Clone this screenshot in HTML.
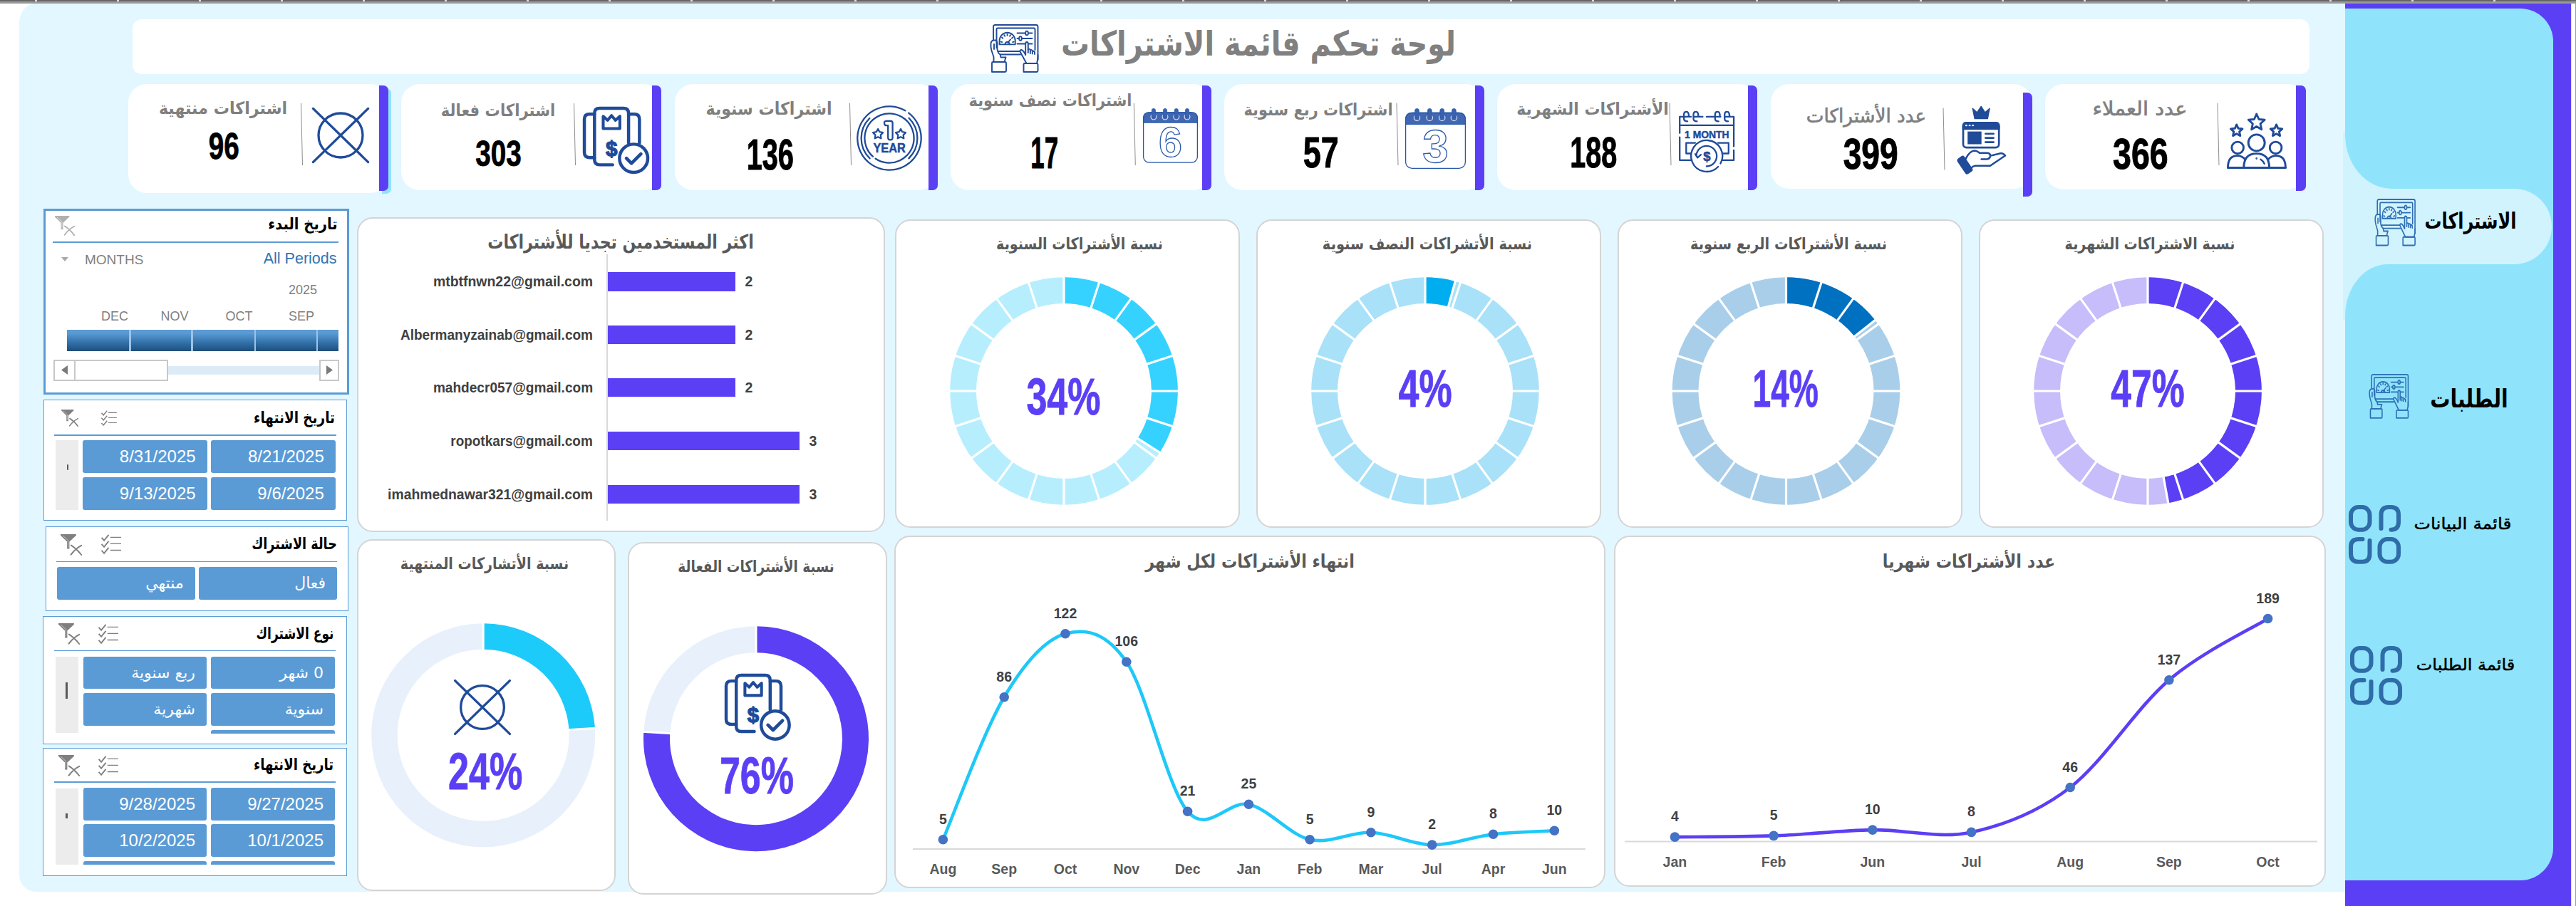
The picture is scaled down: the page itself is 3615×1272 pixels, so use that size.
<!DOCTYPE html><html lang="ar"><head><meta charset="utf-8"><title>لوحة تحكم قائمة الاشتراكات</title><style>
*{box-sizing:border-box;margin:0;padding:0}
html,body{width:3615px;height:1272px;overflow:hidden;background:#fff}
body{position:relative;font-family:"Liberation Sans","DejaVu Sans",sans-serif;}
.abs{position:absolute}
.t{position:absolute;white-space:nowrap;line-height:1;}
.ar{direction:rtl;font-family:"DejaVu Sans",sans-serif;font-weight:bold}
.num{position:absolute;white-space:nowrap;line-height:1;font-family:"Liberation Sans",sans-serif;font-weight:bold;transform-origin:50% 50%;text-align:center}
.card{position:absolute;background:#fff;border:2px solid #D5D4D4;border-radius:22px}
.kpi{position:absolute;background:#fff;border-radius:26px}
.bar{position:absolute;background:#5B3FF5;border-radius:0 7px 7px 0}
.slc{position:absolute;background:#fff;border:1px solid #5B9BD5}
.btn{position:absolute;background:#5B9BD5;border-radius:3px;color:#fff;font-size:24px;line-height:1;white-space:nowrap}
.btn span{position:absolute;right:16px;top:50%;transform:translateY(-50%)}
.sh{position:absolute;direction:rtl;font-family:"DejaVu Sans",sans-serif;font-weight:bold;font-size:20px;color:#000;white-space:nowrap;line-height:1}
svg{position:absolute;overflow:visible}
</style></head><body>
<div class="abs" style="left:0;top:0;width:3615px;height:5px;background:#9a9a9a"></div>
<div class="abs" style="left:0;top:0;width:3615px;height:2px;background:#666"></div>
<div class="abs" style="left:49.0px;top:0;width:3px;height:2px;background:#ddd"></div>
<div class="abs" style="left:164.0px;top:0;width:3px;height:2px;background:#ddd"></div>
<div class="abs" style="left:279.0px;top:0;width:3px;height:2px;background:#ddd"></div>
<div class="abs" style="left:394.0px;top:0;width:3px;height:2px;background:#ddd"></div>
<div class="abs" style="left:509.0px;top:0;width:3px;height:2px;background:#ddd"></div>
<div class="abs" style="left:624.0px;top:0;width:3px;height:2px;background:#ddd"></div>
<div class="abs" style="left:739.0px;top:0;width:3px;height:2px;background:#ddd"></div>
<div class="abs" style="left:854.0px;top:0;width:3px;height:2px;background:#ddd"></div>
<div class="abs" style="left:969.0px;top:0;width:3px;height:2px;background:#ddd"></div>
<div class="abs" style="left:1084.0px;top:0;width:3px;height:2px;background:#ddd"></div>
<div class="abs" style="left:1199.0px;top:0;width:3px;height:2px;background:#ddd"></div>
<div class="abs" style="left:1314.0px;top:0;width:3px;height:2px;background:#ddd"></div>
<div class="abs" style="left:1429.0px;top:0;width:3px;height:2px;background:#ddd"></div>
<div class="abs" style="left:1544.0px;top:0;width:3px;height:2px;background:#ddd"></div>
<div class="abs" style="left:1659.0px;top:0;width:3px;height:2px;background:#ddd"></div>
<div class="abs" style="left:1774.0px;top:0;width:3px;height:2px;background:#ddd"></div>
<div class="abs" style="left:1889.0px;top:0;width:3px;height:2px;background:#ddd"></div>
<div class="abs" style="left:2004.0px;top:0;width:3px;height:2px;background:#ddd"></div>
<div class="abs" style="left:2119.0px;top:0;width:3px;height:2px;background:#ddd"></div>
<div class="abs" style="left:2234.0px;top:0;width:3px;height:2px;background:#ddd"></div>
<div class="abs" style="left:2349.0px;top:0;width:3px;height:2px;background:#ddd"></div>
<div class="abs" style="left:2464.0px;top:0;width:3px;height:2px;background:#ddd"></div>
<div class="abs" style="left:2579.0px;top:0;width:3px;height:2px;background:#ddd"></div>
<div class="abs" style="left:2694.0px;top:0;width:3px;height:2px;background:#ddd"></div>
<div class="abs" style="left:2809.0px;top:0;width:3px;height:2px;background:#ddd"></div>
<div class="abs" style="left:2924.0px;top:0;width:3px;height:2px;background:#ddd"></div>
<div class="abs" style="left:3039.0px;top:0;width:3px;height:2px;background:#ddd"></div>
<div class="abs" style="left:3154.0px;top:0;width:3px;height:2px;background:#ddd"></div>
<div class="abs" style="left:3269.0px;top:0;width:3px;height:2px;background:#ddd"></div>
<div class="abs" style="left:3384.0px;top:0;width:3px;height:2px;background:#ddd"></div>
<div class="abs" style="left:3499.0px;top:0;width:3px;height:2px;background:#ddd"></div>
<div class="abs" style="left:27px;top:5px;width:3265px;height:1247px;background:#E2F7FF;border-radius:22px 0 0 24px / 28px 0 0 24px"></div>
<div class="abs" style="left:3291px;top:5px;width:317px;height:1267px;background:#5B3FF5"></div>
<div class="abs" style="left:3608px;top:5px;width:1px;height:1267px;background:#e4e4e4"></div>
<div class="abs" style="left:3613.5px;top:5px;width:1.5px;height:1267px;background:#9a9a9a"></div>
<div class="abs" style="left:3291px;top:12px;width:292px;height:1224px;background:#8FE4FB;border-radius:0 46px 46px 0"></div>
<div class="abs" style="left:3288px;top:186px;width:75px;height:80px;background:#D0F3FE"></div>
<div class="abs" style="left:3291px;top:100px;width:150px;height:165px;background:#8FE4FB;border-radius:0 0 0 66px / 0 0 0 76px"></div>
<div class="abs" style="left:3288px;top:370px;width:75px;height:79px;background:#D0F3FE"></div>
<div class="abs" style="left:3291px;top:371px;width:150px;height:165px;background:#8FE4FB;border-radius:60px 0 0 0 / 73px 0 0 0"></div>
<div class="abs" style="left:3288px;top:265px;width:293px;height:106px;background:#D0F3FE;border-radius:0 53px 53px 0"></div>
<svg style="left:3331.5px;top:279px" width="57.5" height="66.5" viewBox="0 0 68 68" preserveAspectRatio="none"><g fill="none" stroke="#2F6EB5" stroke-width="1.9" stroke-linecap="round" stroke-linejoin="round">
<path d="M5 22 V3.5 Q5 1 7.5 1 H65 Q67.5 1 67.5 3.5 V50"/>
<path d="M9.5 33 V7 Q9.5 5.5 11 5.5 H62 Q63.5 5.5 63.5 7 V36"/>
<path d="M12 38 H42"/><path d="M15 42.5 H43"/>
<path d="M13.6 28.4 V23 A11 11.2 0 0 1 35.7 23 V28.4 Z"/>
<path d="M21.3 28.4 A3.4 4.6 0 0 1 27.9 28.4"/><path d="M25.4 26 L29 21.4"/>
<path d="M15.6 24.6 l1.7 .5 M17 18.6 l1.4 1.1 M24.6 13.9 v1.9 M32.3 18.6 l-1.4 1.1 M33.7 24.6 l-1.7 .5 M20.3 15.3 l.9 1.5 M29 15.3 l-.9 1.5"/>
<path d="M38.5 12.5 H50 M54 12.5 H59.5 M38.5 20 H41 M45 20 H59.5 M38.5 27.5 H50 M54.5 27.5 H59.5"/>
<ellipse cx="52" cy="12.5" rx="1.9" ry="2.9"/><ellipse cx="43" cy="20" rx="1.9" ry="2.9"/>
<path d="M50.2 43 V27.5 Q50.2 25 52 25 Q53.8 25 53.8 27.5 V40"/>
<path d="M53.8 35.5 Q55.8 34 56.8 36 V41 M56.8 36.5 Q58.8 35.3 59.8 37.2 V41.5 M59.8 38 Q62 37 63 39 V42"/>
<path d="M50.2 43 Q47.5 37 44.5 36 Q42 36 42.5 38.5 L51.5 55 H66 Q68 48 67.5 43"/>
<path d="M47.5 67 H66 Q67.5 67 67.5 65.5 V56.5 Q67.5 55 66 55 H49 Q47.5 55 47.5 56.5 Z"/>
<path d="M5.5 22.5 Q2 23 1.5 27 Q1 32 2.5 37 L5.5 46 V53 H20.5 L22.5 46.5 H15.5 L14.5 42.5 Q11 40 10.5 35 V26 Q9.5 22 7.5 22.5 Z"/>
<path d="M6 28 V35"/>
<path d="M3 67 H21.5 Q23 67 23 65.5 V54.5 Q23 53 21.5 53 H4.5 Q3 53 3 54.5 Z"/>
</g></svg>
<div class="t" style="left:3466.5px;top:310.3px;font-family:'DejaVu Sans',sans-serif;font-weight:bold;font-size:31px;color:#000;direction:rtl;transform:translate(-50%,-50%) scaleX(0.770);">الاشتراكات</div>
<svg style="left:3324.2px;top:524.9px" width="55.9" height="62.8" viewBox="0 0 68 68" preserveAspectRatio="none"><g fill="none" stroke="#2F6EB5" stroke-width="1.9" stroke-linecap="round" stroke-linejoin="round">
<path d="M5 22 V3.5 Q5 1 7.5 1 H65 Q67.5 1 67.5 3.5 V50"/>
<path d="M9.5 33 V7 Q9.5 5.5 11 5.5 H62 Q63.5 5.5 63.5 7 V36"/>
<path d="M12 38 H42"/><path d="M15 42.5 H43"/>
<path d="M13.6 28.4 V23 A11 11.2 0 0 1 35.7 23 V28.4 Z"/>
<path d="M21.3 28.4 A3.4 4.6 0 0 1 27.9 28.4"/><path d="M25.4 26 L29 21.4"/>
<path d="M15.6 24.6 l1.7 .5 M17 18.6 l1.4 1.1 M24.6 13.9 v1.9 M32.3 18.6 l-1.4 1.1 M33.7 24.6 l-1.7 .5 M20.3 15.3 l.9 1.5 M29 15.3 l-.9 1.5"/>
<path d="M38.5 12.5 H50 M54 12.5 H59.5 M38.5 20 H41 M45 20 H59.5 M38.5 27.5 H50 M54.5 27.5 H59.5"/>
<ellipse cx="52" cy="12.5" rx="1.9" ry="2.9"/><ellipse cx="43" cy="20" rx="1.9" ry="2.9"/>
<path d="M50.2 43 V27.5 Q50.2 25 52 25 Q53.8 25 53.8 27.5 V40"/>
<path d="M53.8 35.5 Q55.8 34 56.8 36 V41 M56.8 36.5 Q58.8 35.3 59.8 37.2 V41.5 M59.8 38 Q62 37 63 39 V42"/>
<path d="M50.2 43 Q47.5 37 44.5 36 Q42 36 42.5 38.5 L51.5 55 H66 Q68 48 67.5 43"/>
<path d="M47.5 67 H66 Q67.5 67 67.5 65.5 V56.5 Q67.5 55 66 55 H49 Q47.5 55 47.5 56.5 Z"/>
<path d="M5.5 22.5 Q2 23 1.5 27 Q1 32 2.5 37 L5.5 46 V53 H20.5 L22.5 46.5 H15.5 L14.5 42.5 Q11 40 10.5 35 V26 Q9.5 22 7.5 22.5 Z"/>
<path d="M6 28 V35"/>
<path d="M3 67 H21.5 Q23 67 23 65.5 V54.5 Q23 53 21.5 53 H4.5 Q3 53 3 54.5 Z"/>
</g></svg>
<div class="t" style="left:3465.2px;top:560.1px;font-family:'DejaVu Sans',sans-serif;font-weight:bold;font-size:35px;color:#000;direction:rtl;transform:translate(-50%,-50%) scaleX(0.804);">الطلبات</div>
<svg style="left:3295.7px;top:709.2px" width="74" height="84" viewBox="0 0 74 84" ><g fill="none" stroke="#2F6CA8" stroke-width="6" stroke-linecap="round" stroke-linejoin="round">
<rect x="3" y="3" width="26.5" height="31.7" rx="10.5" ry="11"/>
<path d="M45.5 33 V14 Q45.5 3 56 3 H59.5 Q70 3 70 14 V24 Q70 34.7 59.5 34.7"/>
<path d="M19.5 48 H14 Q3 48 3 59 V68.7 Q3 79.7 13.5 79.7 H19 Q29.5 79.7 29.5 68.7 V50"/>
<rect x="43.5" y="48" width="26.5" height="31.7" rx="10.5" ry="11"/>
</g></svg>
<div class="t" style="left:3456.0px;top:735.2px;font-family:'DejaVu Sans',sans-serif;font-weight:normal;font-size:22.6px;color:#000;direction:rtl;transform:translate(-50%,-50%) scaleX(1.100);-webkit-text-stroke:0.5px #000;">قائمة البيانات</div>
<svg style="left:3297.7px;top:907.2px" width="74" height="84" viewBox="0 0 74 84" ><g fill="none" stroke="#2F6CA8" stroke-width="6" stroke-linecap="round" stroke-linejoin="round">
<rect x="3" y="3" width="26.5" height="31.7" rx="10.5" ry="11"/>
<path d="M45.5 33 V14 Q45.5 3 56 3 H59.5 Q70 3 70 14 V24 Q70 34.7 59.5 34.7"/>
<path d="M19.5 48 H14 Q3 48 3 59 V68.7 Q3 79.7 13.5 79.7 H19 Q29.5 79.7 29.5 68.7 V50"/>
<rect x="43.5" y="48" width="26.5" height="31.7" rx="10.5" ry="11"/>
</g></svg>
<div class="t" style="left:3459.8px;top:933.2px;font-family:'DejaVu Sans',sans-serif;font-weight:normal;font-size:22.6px;color:#000;direction:rtl;transform:translate(-50%,-50%) scaleX(1.061);-webkit-text-stroke:0.5px #000;">قائمة الطلبات</div>
<div class="abs" style="left:186px;top:27px;width:3055px;height:77px;background:#fff;border-radius:13px"></div>
<div class="t" style="left:1766.0px;top:61.2px;font-family:'DejaVu Sans',sans-serif;font-weight:bold;font-size:48px;color:#808080;direction:rtl;transform:translate(-50%,-50%) scaleX(0.829);">لوحة تحكم قائمة الاشتراكات</div>
<svg style="left:1389px;top:34px" width="68" height="68" viewBox="0 0 68 68" preserveAspectRatio="none"><g fill="none" stroke="#1F4B99" stroke-width="1.9" stroke-linecap="round" stroke-linejoin="round">
<path d="M5 22 V3.5 Q5 1 7.5 1 H65 Q67.5 1 67.5 3.5 V50"/>
<path d="M9.5 33 V7 Q9.5 5.5 11 5.5 H62 Q63.5 5.5 63.5 7 V36"/>
<path d="M12 38 H42"/><path d="M15 42.5 H43"/>
<path d="M13.6 28.4 V23 A11 11.2 0 0 1 35.7 23 V28.4 Z"/>
<path d="M21.3 28.4 A3.4 4.6 0 0 1 27.9 28.4"/><path d="M25.4 26 L29 21.4"/>
<path d="M15.6 24.6 l1.7 .5 M17 18.6 l1.4 1.1 M24.6 13.9 v1.9 M32.3 18.6 l-1.4 1.1 M33.7 24.6 l-1.7 .5 M20.3 15.3 l.9 1.5 M29 15.3 l-.9 1.5"/>
<path d="M38.5 12.5 H50 M54 12.5 H59.5 M38.5 20 H41 M45 20 H59.5 M38.5 27.5 H50 M54.5 27.5 H59.5"/>
<ellipse cx="52" cy="12.5" rx="1.9" ry="2.9"/><ellipse cx="43" cy="20" rx="1.9" ry="2.9"/>
<path d="M50.2 43 V27.5 Q50.2 25 52 25 Q53.8 25 53.8 27.5 V40"/>
<path d="M53.8 35.5 Q55.8 34 56.8 36 V41 M56.8 36.5 Q58.8 35.3 59.8 37.2 V41.5 M59.8 38 Q62 37 63 39 V42"/>
<path d="M50.2 43 Q47.5 37 44.5 36 Q42 36 42.5 38.5 L51.5 55 H66 Q68 48 67.5 43"/>
<path d="M47.5 67 H66 Q67.5 67 67.5 65.5 V56.5 Q67.5 55 66 55 H49 Q47.5 55 47.5 56.5 Z"/>
<path d="M5.5 22.5 Q2 23 1.5 27 Q1 32 2.5 37 L5.5 46 V53 H20.5 L22.5 46.5 H15.5 L14.5 42.5 Q11 40 10.5 35 V26 Q9.5 22 7.5 22.5 Z"/>
<path d="M6 28 V35"/>
<path d="M3 67 H21.5 Q23 67 23 65.5 V54.5 Q23 53 21.5 53 H4.5 Q3 53 3 54.5 Z"/>
</g></svg>
<div class="kpi" style="left:180px;top:118px;width:365px;height:153px"></div>
<div class="bar" style="left:536px;top:124px;width:13px;height:148px;background:#8FE4FB"></div>
<div class="bar" style="left:532px;top:120px;width:13px;height:148px"></div>
<svg style="left:0;top:0" width="1" height="1"><path d="M422.5 145 L424.5 232" stroke="#808080" stroke-width="0.9" fill="none"/></svg>
<div class="t" style="left:312.9px;top:152.8px;font-family:'DejaVu Sans',sans-serif;font-weight:bold;font-size:23.7px;color:#7F7F7F;direction:rtl;transform:translate(-50%,-50%) scaleX(0.937);">اشتراكات منتهية</div>
<svg style="left:0;top:0" width="1" height="1"><text transform="translate(292.86 223.17) scale(0.3863 0.5098)" font-family="Liberation Sans,sans-serif" font-weight="bold" font-size="100" fill="#000" stroke="#000" stroke-width="1.6" stroke-linejoin="round">96</text></svg>
<div class="kpi" style="left:563px;top:118px;width:365px;height:149px"></div>
<div class="bar" style="left:915px;top:120px;width:13px;height:147px"></div>
<svg style="left:0;top:0" width="1" height="1"><path d="M805.5 145 L807.5 232" stroke="#808080" stroke-width="0.9" fill="none"/></svg>
<div class="t" style="left:698.9px;top:156.3px;font-family:'DejaVu Sans',sans-serif;font-weight:bold;font-size:23.7px;color:#7F7F7F;direction:rtl;transform:translate(-50%,-50%) scaleX(0.894);">اشتراكات فعالة</div>
<svg style="left:0;top:0" width="1" height="1"><text transform="translate(667.14 233.15) scale(0.3874 0.5080)" font-family="Liberation Sans,sans-serif" font-weight="bold" font-size="100" fill="#000" stroke="#000" stroke-width="1.6" stroke-linejoin="round">303</text></svg>
<div class="kpi" style="left:947px;top:118px;width:369px;height:149px"></div>
<div class="bar" style="left:1303px;top:120px;width:13px;height:147px"></div>
<svg style="left:0;top:0" width="1" height="1"><path d="M1192.5 145 L1194.5 232" stroke="#808080" stroke-width="0.9" fill="none"/></svg>
<div class="t" style="left:1078.5px;top:152.5px;font-family:'DejaVu Sans',sans-serif;font-weight:bold;font-size:24.5px;color:#7F7F7F;direction:rtl;transform:translate(-50%,-50%) scaleX(0.902);">اشتراكات سنوية</div>
<svg style="left:0;top:0" width="1" height="1"><text transform="translate(1047.64 237.75) scale(0.3972 0.6030)" font-family="Liberation Sans,sans-serif" font-weight="bold" font-size="100" fill="#000" stroke="#000" stroke-width="1.6" stroke-linejoin="round">136</text></svg>
<div class="kpi" style="left:1334px;top:118px;width:366px;height:149px"></div>
<div class="bar" style="left:1687px;top:120px;width:13px;height:147px"></div>
<svg style="left:0;top:0" width="1" height="1"><path d="M1591.3 145 L1593.3 232" stroke="#808080" stroke-width="0.9" fill="none"/></svg>
<div class="t" style="left:1473.8px;top:142.2px;font-family:'DejaVu Sans',sans-serif;font-weight:bold;font-size:23.7px;color:#7F7F7F;direction:rtl;transform:translate(-50%,-50%) scaleX(0.886);">اشتراكات نصف سنوية</div>
<svg style="left:0;top:0" width="1" height="1"><text transform="translate(1446.30 236.49) scale(0.3486 0.6223)" font-family="Liberation Sans,sans-serif" font-weight="bold" font-size="100" fill="#000" stroke="#000" stroke-width="1.6" stroke-linejoin="round">17</text></svg>
<div class="kpi" style="left:1718px;top:118px;width:365px;height:149px"></div>
<div class="bar" style="left:2070px;top:120px;width:13px;height:147px"></div>
<svg style="left:0;top:0" width="1" height="1"><path d="M1960 145 L1962 232" stroke="#808080" stroke-width="0.9" fill="none"/></svg>
<div class="t" style="left:1849.6px;top:154.7px;font-family:'DejaVu Sans',sans-serif;font-weight:bold;font-size:23.7px;color:#7F7F7F;direction:rtl;transform:translate(-50%,-50%) scaleX(0.884);">اشتراكات ربع سنوية</div>
<svg style="left:0;top:0" width="1" height="1"><text transform="translate(1828.81 235.08) scale(0.4490 0.6164)" font-family="Liberation Sans,sans-serif" font-weight="bold" font-size="100" fill="#000" stroke="#000" stroke-width="1.6" stroke-linejoin="round">57</text></svg>
<div class="kpi" style="left:2101px;top:118px;width:365px;height:149px"></div>
<div class="bar" style="left:2453px;top:120px;width:13px;height:147px"></div>
<svg style="left:0;top:0" width="1" height="1"><path d="M2343 145 L2345 232" stroke="#808080" stroke-width="0.9" fill="none"/></svg>
<div class="t" style="left:2235.4px;top:153.8px;font-family:'DejaVu Sans',sans-serif;font-weight:bold;font-size:23.7px;color:#7F7F7F;direction:rtl;transform:translate(-50%,-50%) scaleX(0.924);">الأشتراكات الشهرية</div>
<svg style="left:0;top:0" width="1" height="1"><text transform="translate(2203.15 235.09) scale(0.3959 0.6078)" font-family="Liberation Sans,sans-serif" font-weight="bold" font-size="100" fill="#000" stroke="#000" stroke-width="1.6" stroke-linejoin="round">188</text></svg>
<div class="kpi" style="left:2485px;top:118px;width:367px;height:147px"></div>
<div class="bar" style="left:2839px;top:130px;width:13px;height:146px"></div>
<svg style="left:0;top:0" width="1" height="1"><path d="M2727 151.5 L2729 238.5" stroke="#808080" stroke-width="0.9" fill="none"/></svg>
<div class="t" style="left:2618.9px;top:162.3px;font-family:'DejaVu Sans',sans-serif;font-weight:normal;font-size:27px;color:#7F7F7F;direction:rtl;transform:translate(-50%,-50%) scaleX(0.970);-webkit-text-stroke:0.7px #7F7F7F;">عدد الأشتراكات</div>
<svg style="left:0;top:0" width="1" height="1"><text transform="translate(2586.63 236.95) scale(0.4624 0.6058)" font-family="Liberation Sans,sans-serif" font-weight="bold" font-size="100" fill="#000" stroke="#000" stroke-width="1.6" stroke-linejoin="round">399</text></svg>
<div class="kpi" style="left:2870px;top:118px;width:366px;height:148px"></div>
<div class="bar" style="left:3222px;top:120px;width:14px;height:148px"></div>
<svg style="left:0;top:0" width="1" height="1"><path d="M3112 145 L3114 232" stroke="#808080" stroke-width="0.9" fill="none"/></svg>
<div class="t" style="left:3002.5px;top:151.7px;font-family:'DejaVu Sans',sans-serif;font-weight:normal;font-size:27px;color:#7F7F7F;direction:rtl;transform:translate(-50%,-50%) scaleX(1.072);-webkit-text-stroke:0.7px #7F7F7F;">عدد العملاء</div>
<svg style="left:0;top:0" width="1" height="1"><text transform="translate(2965.03 236.95) scale(0.4655 0.6058)" font-family="Liberation Sans,sans-serif" font-weight="bold" font-size="100" fill="#000" stroke="#000" stroke-width="1.6" stroke-linejoin="round">366</text></svg>
<svg style="left:477.6px;top:190px" width="1" height="1" viewBox="0 0 1 1" ><g fill="none" stroke="#1F4B99" stroke-width="3.3" stroke-linecap="round">
<circle cx="0" cy="0" r="31"/><path d="M-38.6 -37.6 L38.6 37.6 M38.6 -37.6 L-38.6 37.6"/></g></svg>
<svg style="left:817px;top:149.8px" width="94.6" height="94.6" viewBox="0 0 93 93" ><g fill="none" stroke="#1F4B99" stroke-width="4.4" stroke-linecap="round" stroke-linejoin="round">
<path d="M17 10 H10 Q3 10 3 17 V63 Q3 70 10 70 H17"/>
<path d="M64 10 H72 Q79 10 79 17 V50"/>
<path d="M42 80 H24 Q17 80 17 73 V9 Q17 2 24 2 H57 Q64 2 64 9 V50"/>
<path d="M29 30 V13 L35 18.5 L40.5 12 L46 18.5 L52 13 V30 Z" stroke-width="4"/>
<circle cx="71" cy="71" r="19.5"/>
<path d="M61 71 L68 78 L81 65" stroke-width="4.6"/>
</g>
<text x="40.5" y="67.5" font-family="Liberation Sans,sans-serif" font-weight="bold" font-size="29" fill="#1F4B99" stroke="#1F4B99" stroke-width="1.3" text-anchor="middle">$</text></svg>
<svg style="left:1248px;top:194px" width="1" height="1" viewBox="0 0 1 1" ><g fill="none" stroke="#1F4B99" stroke-width="2.3" stroke-linecap="round" stroke-linejoin="round">
<path d="M27.21 -35.46 A44.7 44.7 0 1 1 22.35 -38.71"/>
<path d="M27.52 -28.20 A39.4 39.4 0 0 1 27.37 28.34"/><path d="M-27.37 28.34 A39.4 39.4 0 0 1 -27.66 -28.05"/>
<path d="M-23.15 25.71 A34.6 34.6 0 1 1 -19.35 28.68"/>
<polygon points="-15.90,-12.90 -13.61,-8.76 -8.96,-7.86 -12.19,-4.39 -11.61,0.31 -15.90,-1.70 -20.19,0.31 -19.61,-4.39 -22.84,-7.86 -18.19,-8.76"/><polygon points="16.00,-12.90 18.29,-8.76 22.94,-7.86 19.71,-4.39 20.29,0.31 16.00,-1.70 11.71,0.31 12.29,-4.39 9.06,-7.86 13.71,-8.76"/>
<path d="M-6.8 -20 Q-8 -24.2 -4 -24.2 H2 Q4.6 -24.2 4.6 -21.5 V-0.8 Q4.6 2.3 1.4 2.3 Q-1.8 2.3 -1.8 -0.8 V-17.8 H-4 Q-6.4 -17.8 -6.8 -20 Z"/>
</g>
<text x="0.2" y="20" font-family="Liberation Sans,sans-serif" font-weight="bold" font-size="18.8" fill="#1F4B99" stroke="#1F4B99" stroke-width=".5" text-anchor="middle" textLength="45.5" lengthAdjust="spacingAndGlyphs">YEAR</text></svg>
<svg style="left:1604px;top:152px" width="77" height="76.7" viewBox="0 0 77 76.7" ><rect x="0.6" y="5.9" width="75.8" height="70.2" rx="8.1" fill="#fff" stroke="#2457A8" stroke-width="1.3"/>
<path d="M0.6 20.1 V14.0 Q0.6 5.9 8.7 5.9 H68.3 Q76.4 5.9 76.4 14.0 V20.1 Z" fill="#4267B2" stroke="#2457A8" stroke-width="1.3"/>
<circle cx="14.9" cy="12.1" r="3.9" fill="none" stroke="#fff" stroke-width="1.2" stroke-opacity=".8"/><rect x="12.3" y="0.4" width="5.2" height="12.3" rx="2.6" fill="#3A62B0" stroke="#2457A8" stroke-width=".7"/><circle cx="31.0" cy="12.1" r="3.9" fill="none" stroke="#fff" stroke-width="1.2" stroke-opacity=".8"/><rect x="28.4" y="0.4" width="5.2" height="12.3" rx="2.6" fill="#3A62B0" stroke="#2457A8" stroke-width=".7"/><circle cx="46.8" cy="12.1" r="3.9" fill="none" stroke="#fff" stroke-width="1.2" stroke-opacity=".8"/><rect x="44.2" y="0.4" width="5.2" height="12.3" rx="2.6" fill="#3A62B0" stroke="#2457A8" stroke-width=".7"/><circle cx="62.0" cy="12.1" r="3.9" fill="none" stroke="#fff" stroke-width="1.2" stroke-opacity=".8"/><rect x="59.4" y="0.4" width="5.2" height="12.3" rx="2.6" fill="#3A62B0" stroke="#2457A8" stroke-width=".7"/>
<text x="38.5" y="68.5" font-family="Liberation Sans,sans-serif" font-weight="bold" font-size="59.1" fill="#fff" stroke="#2C5BAD" stroke-width="1.3" text-anchor="middle">6</text></svg>
<svg style="left:1972px;top:152px" width="85" height="85" viewBox="0 0 85 85" ><rect x="0.6" y="6.5" width="83.8" height="77.9" rx="8.9" fill="#fff" stroke="#2457A8" stroke-width="1.3"/>
<path d="M0.6 22.3 V15.5 Q0.6 6.5 9.5 6.5 H75.5 Q84.4 6.5 84.4 15.5 V22.3 Z" fill="#4267B2" stroke="#2457A8" stroke-width="1.3"/>
<circle cx="16.5" cy="13.4" r="4.2" fill="none" stroke="#fff" stroke-width="1.2" stroke-opacity=".8"/><rect x="13.6" y="0.4" width="5.8" height="13.6" rx="2.9" fill="#3A62B0" stroke="#2457A8" stroke-width=".7"/><circle cx="34.3" cy="13.4" r="4.2" fill="none" stroke="#fff" stroke-width="1.2" stroke-opacity=".8"/><rect x="31.4" y="0.4" width="5.8" height="13.6" rx="2.9" fill="#3A62B0" stroke="#2457A8" stroke-width=".7"/><circle cx="51.7" cy="13.4" r="4.2" fill="none" stroke="#fff" stroke-width="1.2" stroke-opacity=".8"/><rect x="48.8" y="0.4" width="5.8" height="13.6" rx="2.9" fill="#3A62B0" stroke="#2457A8" stroke-width=".7"/><circle cx="68.4" cy="13.4" r="4.2" fill="none" stroke="#fff" stroke-width="1.2" stroke-opacity=".8"/><rect x="65.5" y="0.4" width="5.8" height="13.6" rx="2.9" fill="#3A62B0" stroke="#2457A8" stroke-width=".7"/>
<text x="42.5" y="75.9" font-family="Liberation Sans,sans-serif" font-weight="bold" font-size="65.5" fill="#fff" stroke="#2C5BAD" stroke-width="1.3" text-anchor="middle">3</text></svg>
<svg style="left:2355.8px;top:155.8px" width="78.3" height="85.6" viewBox="0 0 78.3 85.6" ><g fill="none" stroke="#1F4B99" stroke-width="2.3" stroke-linecap="round" stroke-linejoin="round">
<path d="M6.5 7.9 H1.2 V30.8 M1.2 36.6 V68.9 H17.5"/>
<path d="M71.5 7.9 H77.1 V49.6 M77.1 54.8 V68.9 H61.5"/>
<path d="M1.2 19.8 H77.1"/>
<path d="M7.1 7.9 H17 M13.9 7.9 Q14.3 0.9 10.600000000000001 0.9 Q7.1000000000000005 0.9 7.1000000000000005 5 V10.5 Q7.1000000000000005 14.3 12.100000000000001 14.3"/><path d="M20.5 7.9 H33.4 M27.3 7.9 Q27.7 0.9 24.0 0.9 Q20.5 0.9 20.5 5 V10.5 Q20.5 14.3 25.5 14.3"/><path d="M38.9 7.9 H58.5 M57.6 7.9 Q58 0.9 54.3 0.9 Q50.8 0.9 50.8 5 V10.5 Q50.8 14.3 55.8 14.3"/><path d="M64.2 7.9 H71.5 M71.0 7.9 Q71.4 0.9 67.7 0.9 Q64.2 0.9 64.2 5 V10.5 Q64.2 14.3 69.2 14.3"/>
<path d="M23 44.6 H10.3 V59.5 H17 M55 44.6 H69.8 V59.5 H61"/>
<path d="M55.2 78 A22 22 0 1 1 58.4 73.6"/>
<path d="M24.6 62 A14.3 14.3 0 1 1 38.9 77.5"/>
<path d="M23 60.3 L26.2 65.3 L31 61.2"/>
</g>
<text x="39.3" y="38.3" font-family="Liberation Sans,sans-serif" font-weight="bold" font-size="13.9" fill="#1F4B99" stroke="#1F4B99" stroke-width=".5" text-anchor="middle" textLength="62.5" lengthAdjust="spacingAndGlyphs">1 MONTH</text>
<text x="39.4" y="70.2" font-family="Liberation Sans,sans-serif" font-weight="bold" font-size="18.5" fill="#1F4B99" stroke="#1F4B99" stroke-width=".6" text-anchor="middle">$</text></svg>
<svg style="left:2745.9px;top:149px" width="68.9" height="96.3" viewBox="0 0 68.9 96.3" ><path d="M22.3 3.2 L28.5 8.9 L34.2 0.4 L39.7 8.9 L46.1 3.2 L43.3 17.6 H25.2 Z" fill="#1F4B99" stroke="#1F4B99" stroke-width="1.4" stroke-linejoin="round"/>
<rect x="9" y="23.4" width="50.2" height="34.8" rx="4.6" fill="#fff" stroke="#1F4B99" stroke-width="2.7"/>
<path d="M9 32 V28 Q9 23.4 13.6 23.4 H54.6 Q59.2 23.4 59.2 28 V32 Z" fill="#1F4B99" stroke="#1F4B99" stroke-width="2.7" stroke-linejoin="round"/>
<ellipse cx="13.4" cy="27.2" rx="1.5" ry="1.1" fill="#fff"/><ellipse cx="18.1" cy="27.2" rx="1.5" ry="1.1" fill="#fff"/><ellipse cx="22.6" cy="27.2" rx="1.5" ry="1.1" fill="#fff"/>
<rect x="15.2" y="35.6" width="19.5" height="17.9" fill="#1F4B99"/>
<path d="M40.3 38.7 H51.7 M40.3 44.6 H51.7 M40.3 50.6 H51.7" stroke="#1F4B99" stroke-width="2.6" stroke-linecap="round"/>
<path d="M12.8 73.6 Q18 63 25 62.6 Q28.5 62.8 32 65.8 H43.5 Q47.6 66.6 47 70.6 Q46 74.2 42.5 74.4 H34.6 M47.3 69.6 L61.5 66.3 Q65.5 65.8 68 69.5 L47 83.7 H26 Q23 84 20.3 86.6" fill="none" stroke="#1F4B99" stroke-width="2.5" stroke-linecap="round" stroke-linejoin="round"/>
<path d="M2 74.2 L7.2 70.6 Q9 69.6 10.3 71.3 L21.6 88 Q22.6 89.8 21 91 L15.6 94.8 Q13.8 95.8 12.6 94.2 L1.3 77.4 Q0.3 75.5 2 74.2 Z" fill="#1F4B99" stroke="#1F4B99" stroke-width="1.2" stroke-linejoin="round"/></svg>
<svg style="left:3125.2px;top:157.9px" width="83.7" height="79.5" viewBox="0 0 83.7 79.5" ><g fill="none" stroke="#1F4B99" stroke-width="2.9" stroke-linecap="round" stroke-linejoin="round">
<polygon points="41.70,2.00 44.99,9.47 53.11,10.29 47.03,15.73 48.75,23.71 41.70,19.60 34.65,23.71 36.37,15.73 30.29,10.29 38.41,9.47"/><polygon points="13.70,16.90 16.11,22.28 21.97,22.91 17.60,26.87 18.81,32.64 13.70,29.70 8.59,32.64 9.80,26.87 5.43,22.91 11.29,22.28"/><polygon points="69.50,16.90 71.91,22.28 77.77,22.91 73.40,26.87 74.61,32.64 69.50,29.70 64.39,32.64 65.60,26.87 61.23,22.91 67.09,22.28"/>
<circle cx="41.7" cy="42.4" r="11.5"/><circle cx="15.2" cy="49.4" r="8.3"/><circle cx="68.6" cy="49.4" r="8.3"/>
<path d="M23.8 77.5 Q23.8 57.6 41.7 57.6 Q59.6 57.6 59.6 77.5"/>
<path d="M1.5 77.5 Q1.5 60.6 14.6 60.6 Q21.5 60.6 25.8 65.8"/>
<path d="M82.4 77.5 Q82.4 60.6 69.1 60.6 Q62.2 60.6 58 65.8"/>
<path d="M1.5 77.5 H82.4"/>
<path d="M47.4 65.8 Q51 68 52.7 71.9" stroke-width="2.4"/><circle cx="41.7" cy="64.5" r=".6" stroke-width="1.6"/>
</g></svg>
<div class="abs" style="left:61px;top:293px;width:429px;height:261px;background:#fff;border:3px solid #5B9BD5"></div>
<div class="t" style="left:424.7px;top:315.1px;font-family:'DejaVu Sans',sans-serif;font-weight:bold;font-size:22px;color:#000;direction:rtl;transform:translate(-50%,-50%) scaleX(0.888);">تاريخ البدء</div>
<svg style="left:77px;top:302.5px" width="28" height="28" viewBox="0 0 30 30" ><path d="M0 0 H21.8 V1.7 L12.4 10.5 V20.4 H9.1 V10.5 L0 1.7 Z" fill="#B0B0B0"/>
<path d="M3 1.9 L10.6 8.9 V18.6" stroke="#fff" stroke-opacity=".7" stroke-width=".8" fill="none"/>
<path d="M14.8 15.6 Q22 20 29.2 29 M29.2 15.8 Q21 20 14.6 28.6" stroke="#B0B0B0" stroke-width="2" fill="none" stroke-linecap="round"/></svg>
<div class="abs" style="left:74px;top:338.5px;width:401px;height:2.5px;background:#5B9BD5"></div>
<div class="t " style="left:472.5px;top:364px;font-size:21.5px;color:#2E75B6;transform:translate(-100%,-50%);">All Periods</div>
<div class="t " style="left:119px;top:364px;font-size:19px;color:#7F7F7F;transform:translate(0,-50%);">MONTHS</div>
<svg style="left:86px;top:361px" width="10" height="6"><path d="M0 0 H10 L5 6 Z" fill="#A8A8A8"/></svg>
<div class="t " style="left:425px;top:407px;font-size:18px;color:#7F7F7F;transform:translate(-50%,-50%);">2025</div>
<div class="t " style="left:161px;top:444px;font-size:18px;color:#7F7F7F;transform:translate(-50%,-50%);">DEC</div>
<div class="t " style="left:245px;top:444px;font-size:18px;color:#7F7F7F;transform:translate(-50%,-50%);">NOV</div>
<div class="t " style="left:335.5px;top:444px;font-size:18px;color:#7F7F7F;transform:translate(-50%,-50%);">OCT</div>
<div class="t " style="left:423px;top:444px;font-size:18px;color:#7F7F7F;transform:translate(-50%,-50%);">SEP</div>
<div class="abs" style="left:93.5px;top:462.7px;width:381px;height:30px;background:linear-gradient(#5B9BD5,#5B9BD5 15%,#2E6DA4 65%,#1F4E79)"></div>
<div class="abs" style="left:181px;top:462.7px;width:2.6px;height:30px;background:#9DC3E6"></div>
<div class="abs" style="left:268px;top:462.7px;width:2.6px;height:30px;background:#9DC3E6"></div>
<div class="abs" style="left:356.5px;top:462.7px;width:2.6px;height:30px;background:#9DC3E6"></div>
<div class="abs" style="left:443.8px;top:462.7px;width:2.6px;height:30px;background:#9DC3E6"></div>
<div class="abs" style="left:127px;top:513.5px;width:322px;height:12px;background:#DDEBF7"></div>
<div class="abs" style="left:75px;top:505px;width:31px;height:29.5px;background:#fff;border:2.5px solid #C8C8C8"></div>
<div class="abs" style="left:103.5px;top:505px;width:132.5px;height:29.5px;background:#fff;border:2.5px solid #C8C8C8"></div>
<div class="abs" style="left:448px;top:505px;width:28px;height:29.5px;background:#fff;border:2.5px solid #C8C8C8"></div>
<svg style="left:86px;top:513px" width="9" height="13"><path d="M9 0 V13 L0 6.5 Z" fill="#7a7a7a"/></svg>
<svg style="left:458px;top:513px" width="9" height="13"><path d="M0 0 V13 L9 6.5 Z" fill="#7a7a7a"/></svg>
<div class="slc" style="left:61px;top:561px;width:426px;height:170px"></div>
<div class="t" style="left:413.2px;top:585.5px;font-family:'DejaVu Sans',sans-serif;font-weight:bold;font-size:22.5px;color:#000;direction:rtl;transform:translate(-50%,-50%) scaleX(0.818);">تاريخ الانتهاء</div>
<div class="abs" style="left:76px;top:610.4px;width:396px;height:1.4px;background:#5B9BD5"></div>
<svg style="left:86px;top:574.8px" width="24" height="24" viewBox="0 0 30 30" ><path d="M0 0 H21.8 V1.7 L12.4 10.5 V20.4 H9.1 V10.5 L0 1.7 Z" fill="#7F7F7F"/>
<path d="M3 1.9 L10.6 8.9 V18.6" stroke="#fff" stroke-opacity=".7" stroke-width=".8" fill="none"/>
<path d="M14.8 15.6 Q22 20 29.2 29 M29.2 15.8 Q21 20 14.6 28.6" stroke="#7F7F7F" stroke-width="2" fill="none" stroke-linecap="round"/></svg>
<svg style="left:142.4px;top:575.6px" width="22" height="22" viewBox="0 0 28.4 28.4" ><g fill="none" stroke="#7F7F7F">
<path d="M0.6 4.9 L4.1 8.8 L10.6 0.8 M0.6 14 L4.1 17.9 L10.6 9.9 M0.6 23.1 L4.1 27 L10.6 19" stroke-width="1.9"/>
<path d="M12.8 4.4 H28.2 M12.8 13.5 H28.2 M12.8 22.6 H28.2" stroke-width="1.4"/></g></svg>
<div class="abs" style="left:78px;top:618.3px;width:32px;height:97.5px;background:#ECECEC"></div>
<div class="abs" style="left:93.5px;top:652px;width:2.5px;height:8px;background:#595959;border-radius:1px"></div>
<div class="btn" style="left:116px;top:618.3px;width:174.60000000000002px;height:46.200000000000045px;font-size:24px;"><span>8/31/2025</span></div>
<div class="btn" style="left:295.9px;top:618.3px;width:174.90000000000003px;height:46.200000000000045px;font-size:24px;"><span>8/21/2025</span></div>
<div class="btn" style="left:116px;top:670.3px;width:174.60000000000002px;height:45.5px;font-size:24px;"><span>9/13/2025</span></div>
<div class="btn" style="left:295.9px;top:670.3px;width:174.90000000000003px;height:45.5px;font-size:24px;"><span>9/6/2025</span></div>
<div class="slc" style="left:63.5px;top:739px;width:425.5px;height:119px"></div>
<div class="t" style="left:412.8px;top:762.8px;font-family:'DejaVu Sans',sans-serif;font-weight:bold;font-size:22.5px;color:#000;direction:rtl;transform:translate(-50%,-50%) scaleX(0.784);">حالة الاشتراك</div>
<div class="abs" style="left:79px;top:787.6999999999999px;width:394px;height:1.4px;background:#5B9BD5"></div>
<svg style="left:85.2px;top:750.2px" width="30" height="30" viewBox="0 0 30 30" ><path d="M0 0 H21.8 V1.7 L12.4 10.5 V20.4 H9.1 V10.5 L0 1.7 Z" fill="#7F7F7F"/>
<path d="M3 1.9 L10.6 8.9 V18.6" stroke="#fff" stroke-opacity=".7" stroke-width=".8" fill="none"/>
<path d="M14.8 15.6 Q22 20 29.2 29 M29.2 15.8 Q21 20 14.6 28.6" stroke="#7F7F7F" stroke-width="2" fill="none" stroke-linecap="round"/></svg>
<svg style="left:141.5px;top:750.2px" width="28.2" height="28.2" viewBox="0 0 28.4 28.4" ><g fill="none" stroke="#7F7F7F">
<path d="M0.6 4.9 L4.1 8.8 L10.6 0.8 M0.6 14 L4.1 17.9 L10.6 9.9 M0.6 23.1 L4.1 27 L10.6 19" stroke-width="1.9"/>
<path d="M12.8 4.4 H28.2 M12.8 13.5 H28.2 M12.8 22.6 H28.2" stroke-width="1.4"/></g></svg>
<div class="btn ar" style="left:80px;top:796px;width:193.7px;height:46px;font-size:22px;font-weight:normal;"><span>منتهي</span></div>
<div class="btn ar" style="left:279px;top:796px;width:194px;height:46px;font-size:22px;font-weight:normal;"><span>فعال</span></div>
<div class="slc" style="left:60px;top:864.5px;width:426.5px;height:180.5px"></div>
<div class="t" style="left:413.8px;top:889.2px;font-family:'DejaVu Sans',sans-serif;font-weight:bold;font-size:22.5px;color:#000;direction:rtl;transform:translate(-50%,-50%) scaleX(0.758);">نوع الاشتراك</div>
<div class="abs" style="left:76px;top:912.9px;width:395px;height:1.4px;background:#5B9BD5"></div>
<svg style="left:82px;top:875px" width="30" height="30" viewBox="0 0 30 30" ><path d="M0 0 H21.8 V1.7 L12.4 10.5 V20.4 H9.1 V10.5 L0 1.7 Z" fill="#7F7F7F"/>
<path d="M3 1.9 L10.6 8.9 V18.6" stroke="#fff" stroke-opacity=".7" stroke-width=".8" fill="none"/>
<path d="M14.8 15.6 Q22 20 29.2 29 M29.2 15.8 Q21 20 14.6 28.6" stroke="#7F7F7F" stroke-width="2" fill="none" stroke-linecap="round"/></svg>
<svg style="left:137.5px;top:875.5px" width="28.2" height="28.2" viewBox="0 0 28.4 28.4" ><g fill="none" stroke="#7F7F7F">
<path d="M0.6 4.9 L4.1 8.8 L10.6 0.8 M0.6 14 L4.1 17.9 L10.6 9.9 M0.6 23.1 L4.1 27 L10.6 19" stroke-width="1.9"/>
<path d="M12.8 4.4 H28.2 M12.8 13.5 H28.2 M12.8 22.6 H28.2" stroke-width="1.4"/></g></svg>
<div class="abs" style="left:77.5px;top:922px;width:32px;height:106.6px;background:#ECECEC"></div>
<div class="abs" style="left:92px;top:958px;width:2.5px;height:23px;background:#595959"></div>
<div class="btn ar" style="left:117px;top:922.4px;width:173px;height:45.10000000000002px;font-size:22px;font-weight:normal;"><span>ربع سنوية</span></div>
<div class="btn ar" style="left:296px;top:922.4px;width:174px;height:45.10000000000002px;font-size:22px;font-weight:normal;"><span>0 شهر</span></div>
<div class="btn ar" style="left:117px;top:973px;width:173px;height:45.700000000000045px;font-size:22px;font-weight:normal;"><span>شهرية</span></div>
<div class="btn ar" style="left:296px;top:973px;width:174px;height:45.700000000000045px;font-size:22px;font-weight:normal;"><span>سنوية</span></div>
<div class="abs" style="left:296px;top:1024.8px;width:174px;height:5px;background:#5B9BD5;border-radius:3px 3px 0 0"></div>
<div class="slc" style="left:60px;top:1049.5px;width:426.5px;height:180px"></div>
<div class="t" style="left:412.1px;top:1072.5px;font-family:'DejaVu Sans',sans-serif;font-weight:bold;font-size:22.5px;color:#000;direction:rtl;transform:translate(-50%,-50%) scaleX(0.806);">تاريخ الانتهاء</div>
<div class="abs" style="left:76px;top:1097.4px;width:395px;height:1.4px;background:#5B9BD5"></div>
<svg style="left:82px;top:1060px" width="30" height="30" viewBox="0 0 30 30" ><path d="M0 0 H21.8 V1.7 L12.4 10.5 V20.4 H9.1 V10.5 L0 1.7 Z" fill="#7F7F7F"/>
<path d="M3 1.9 L10.6 8.9 V18.6" stroke="#fff" stroke-opacity=".7" stroke-width=".8" fill="none"/>
<path d="M14.8 15.6 Q22 20 29.2 29 M29.2 15.8 Q21 20 14.6 28.6" stroke="#7F7F7F" stroke-width="2" fill="none" stroke-linecap="round"/></svg>
<svg style="left:137.5px;top:1060.5px" width="28.2" height="28.2" viewBox="0 0 28.4 28.4" ><g fill="none" stroke="#7F7F7F">
<path d="M0.6 4.9 L4.1 8.8 L10.6 0.8 M0.6 14 L4.1 17.9 L10.6 9.9 M0.6 23.1 L4.1 27 L10.6 19" stroke-width="1.9"/>
<path d="M12.8 4.4 H28.2 M12.8 13.5 H28.2 M12.8 22.6 H28.2" stroke-width="1.4"/></g></svg>
<div class="abs" style="left:77.5px;top:1106.8px;width:32px;height:107px;background:#ECECEC"></div>
<div class="abs" style="left:92px;top:1142px;width:2.5px;height:7px;background:#595959"></div>
<div class="btn" style="left:117px;top:1105.9px;width:173px;height:45.69999999999982px;font-size:24px;"><span>9/28/2025</span></div>
<div class="btn" style="left:296px;top:1105.9px;width:174px;height:45.69999999999982px;font-size:24px;"><span>9/27/2025</span></div>
<div class="btn" style="left:117px;top:1157px;width:173px;height:45.799999999999955px;font-size:24px;"><span>10/2/2025</span></div>
<div class="btn" style="left:296px;top:1157px;width:174px;height:45.799999999999955px;font-size:24px;"><span>10/1/2025</span></div>
<div class="abs" style="left:117px;top:1208.9px;width:173px;height:5px;background:#5B9BD5;border-radius:3px 3px 0 0"></div>
<div class="abs" style="left:296px;top:1208.9px;width:174px;height:5px;background:#5B9BD5;border-radius:3px 3px 0 0"></div>
<div class="card" style="left:500.5px;top:304.5px;width:741.0px;height:442.0px;border-radius:22px"></div>
<div class="card" style="left:1256px;top:307.5px;width:483.5px;height:433.5px;border-radius:22px"></div>
<div class="card" style="left:1763px;top:307.5px;width:483.5px;height:433.5px;border-radius:22px"></div>
<div class="card" style="left:2270px;top:307.5px;width:483.5px;height:433.5px;border-radius:22px"></div>
<div class="card" style="left:2777px;top:307.5px;width:483.5px;height:433.5px;border-radius:22px"></div>
<div class="card" style="left:500.5px;top:757.3px;width:363.20000000000005px;height:494.20000000000005px;border-radius:22px"></div>
<div class="card" style="left:880.7px;top:761px;width:364.29999999999995px;height:494.5px;border-radius:22px"></div>
<div class="card" style="left:1254.5px;top:751.5px;width:998.0px;height:495.0px;border-radius:22px"></div>
<div class="card" style="left:2264.5px;top:751.5px;width:999.0px;height:493.0px;border-radius:22px"></div>
<div class="t" style="left:870.8px;top:340.3px;font-family:'DejaVu Sans',sans-serif;font-weight:bold;font-size:27.5px;color:#595959;direction:rtl;transform:translate(-50%,-50%) scaleX(0.803);">اكثر المستخدمين تجديا للأشتراكات</div>
<div class="abs" style="left:851px;top:357px;width:2px;height:374px;background:#D9D9D9"></div>
<div class="abs" style="left:852.5px;top:382.1px;width:179px;height:26.5px;background:#5B3FF5"></div>
<div class="t" style="left:719.7px;top:396.1px;font-family:'Liberation Sans',sans-serif;font-weight:bold;font-size:19.5px;color:#404040;transform:translate(-50%,-50%) scaleX(0.997);">mtbtfnwn22@gmail.com</div>
<div class="t " style="left:1051.0px;top:396.3px;font-size:19.5px;color:#404040;transform:translate(-50%,-50%);font-weight:bold">2</div>
<div class="abs" style="left:852.5px;top:456.8px;width:179px;height:26.5px;background:#5B3FF5"></div>
<div class="t" style="left:696.8px;top:470.8px;font-family:'Liberation Sans',sans-serif;font-weight:bold;font-size:19.5px;color:#404040;transform:translate(-50%,-50%) scaleX(0.975);">Albermanyzainab@gmail.com</div>
<div class="t " style="left:1051.0px;top:471px;font-size:19.5px;color:#404040;transform:translate(-50%,-50%);font-weight:bold">2</div>
<div class="abs" style="left:852.5px;top:530.9px;width:179px;height:26.5px;background:#5B3FF5"></div>
<div class="t" style="left:719.7px;top:544.9px;font-family:'Liberation Sans',sans-serif;font-weight:bold;font-size:19.5px;color:#404040;transform:translate(-50%,-50%) scaleX(0.978);">mahdecr057@gmail.com</div>
<div class="t " style="left:1051.0px;top:545.1px;font-size:19.5px;color:#404040;transform:translate(-50%,-50%);font-weight:bold">2</div>
<div class="abs" style="left:852.5px;top:605.5999999999999px;width:269px;height:26.5px;background:#5B3FF5"></div>
<div class="t" style="left:732.0px;top:619.5999999999999px;font-family:'Liberation Sans',sans-serif;font-weight:bold;font-size:19.5px;color:#404040;transform:translate(-50%,-50%) scaleX(0.971);">ropotkars@gmail.com</div>
<div class="t " style="left:1141.0px;top:619.8px;font-size:19.5px;color:#404040;transform:translate(-50%,-50%);font-weight:bold">3</div>
<div class="abs" style="left:852.5px;top:680.8px;width:269px;height:26.5px;background:#5B3FF5"></div>
<div class="t" style="left:687.8px;top:694.8px;font-family:'Liberation Sans',sans-serif;font-weight:bold;font-size:19.5px;color:#404040;transform:translate(-50%,-50%) scaleX(0.993);">imahmednawar321@gmail.com</div>
<div class="t " style="left:1141.0px;top:695px;font-size:19.5px;color:#404040;transform:translate(-50%,-50%);font-weight:bold">3</div>
<svg style="left:0;top:0" width="1" height="1"><circle cx="1493" cy="549" r="141.4" fill="none" stroke="#B6EEFE" stroke-width="36.80000000000001"/><path d="M1493.00 389.20 A159.8 159.8 0 0 1 1627.44 635.39 L1596.48 615.49 A123 123 0 0 0 1493.00 426.00 Z" fill="#35D2FF"/><path d="M1493.00 428.00 L1493.00 387.20 M1530.39 433.92 L1543.00 395.12 M1564.12 451.11 L1588.10 418.10 M1590.89 477.88 L1623.90 453.90 M1608.08 511.61 L1646.88 499.00 M1614.00 549.00 L1654.80 549.00 M1608.08 586.39 L1646.88 599.00 M1590.89 620.12 L1623.90 644.10 M1564.12 646.89 L1588.10 679.90 M1530.39 664.08 L1543.00 702.88 M1493.00 670.00 L1493.00 710.80 M1455.61 664.08 L1443.00 702.88 M1421.88 646.89 L1397.90 679.90 M1395.11 620.12 L1362.10 644.10 M1377.92 586.39 L1339.12 599.00 M1372.00 549.00 L1331.20 549.00 M1377.92 511.61 L1339.12 499.00 M1395.11 477.88 L1362.10 453.90 M1421.88 451.11 L1397.90 418.10 M1455.61 433.92 L1443.00 395.12 M1594.80 614.41 L1629.12 636.47 " stroke="#fff" stroke-width="3.2" fill="none"/></svg>
<div class="t" style="left:1515.0px;top:342.0px;font-family:'DejaVu Sans',sans-serif;font-weight:bold;font-size:22.6px;color:#595959;direction:rtl;transform:translate(-50%,-50%) scaleX(0.844);">نسبة الأشتراكات السنوية</div>
<svg style="left:0;top:0" width="1" height="1"><text transform="translate(1440.44 581.55) scale(0.5202 0.7269)" font-family="Liberation Sans,sans-serif" font-weight="bold" font-size="100" fill="#5B3FF5" stroke="#5B3FF5" stroke-width="1.2" stroke-linejoin="round">34%</text></svg>
<svg style="left:0;top:0" width="1" height="1"><circle cx="2000" cy="549" r="141.4" fill="none" stroke="#A9E1F8" stroke-width="36.80000000000001"/><path d="M2000.00 389.20 A159.8 159.8 0 0 1 2042.26 394.89 L2032.53 430.38 A123 123 0 0 0 2000.00 426.00 Z" fill="#00AEEF"/><path d="M2000.00 428.00 L2000.00 387.20 M2037.39 433.92 L2050.00 395.12 M2071.12 451.11 L2095.10 418.10 M2097.89 477.88 L2130.90 453.90 M2115.08 511.61 L2153.88 499.00 M2121.00 549.00 L2161.80 549.00 M2115.08 586.39 L2153.88 599.00 M2097.89 620.12 L2130.90 644.10 M2071.12 646.89 L2095.10 679.90 M2037.39 664.08 L2050.00 702.88 M2000.00 670.00 L2000.00 710.80 M1962.61 664.08 L1950.00 702.88 M1928.88 646.89 L1904.90 679.90 M1902.11 620.12 L1869.10 644.10 M1884.92 586.39 L1846.12 599.00 M1879.00 549.00 L1838.20 549.00 M1884.92 511.61 L1846.12 499.00 M1902.11 477.88 L1869.10 453.90 M1928.88 451.11 L1904.90 418.10 M1962.61 433.92 L1950.00 395.12 M2032.00 432.31 L2042.79 392.96 " stroke="#fff" stroke-width="3.2" fill="none"/></svg>
<div class="t" style="left:2003.2px;top:342.0px;font-family:'DejaVu Sans',sans-serif;font-weight:bold;font-size:22.6px;color:#595959;direction:rtl;transform:translate(-50%,-50%) scaleX(0.859);">نسبة الأتشراكات النصف سنوية</div>
<svg style="left:0;top:0" width="1" height="1"><text transform="translate(1962.54 571.00) scale(0.5189 0.7332)" font-family="Liberation Sans,sans-serif" font-weight="bold" font-size="100" fill="#5B3FF5" stroke="#5B3FF5" stroke-width="1.2" stroke-linejoin="round">4%</text></svg>
<svg style="left:0;top:0" width="1" height="1"><circle cx="2506.5" cy="549" r="141.4" fill="none" stroke="#A9CEEA" stroke-width="36.80000000000001"/><path d="M2506.50 389.20 A159.8 159.8 0 0 1 2631.46 449.40 L2602.69 472.34 A123 123 0 0 0 2506.50 426.00 Z" fill="#0070C0"/><path d="M2506.50 428.00 L2506.50 387.20 M2543.89 433.92 L2556.50 395.12 M2577.62 451.11 L2601.60 418.10 M2604.39 477.88 L2637.40 453.90 M2621.58 511.61 L2660.38 499.00 M2627.50 549.00 L2668.30 549.00 M2621.58 586.39 L2660.38 599.00 M2604.39 620.12 L2637.40 644.10 M2577.62 646.89 L2601.60 679.90 M2543.89 664.08 L2556.50 702.88 M2506.50 670.00 L2506.50 710.80 M2469.11 664.08 L2456.50 702.88 M2435.38 646.89 L2411.40 679.90 M2408.61 620.12 L2375.60 644.10 M2391.42 586.39 L2352.62 599.00 M2385.50 549.00 L2344.70 549.00 M2391.42 511.61 L2352.62 499.00 M2408.61 477.88 L2375.60 453.90 M2435.38 451.11 L2411.40 418.10 M2469.11 433.92 L2456.50 395.12 M2601.12 473.58 L2633.03 448.15 " stroke="#fff" stroke-width="3.2" fill="none"/></svg>
<div class="t" style="left:2510.0px;top:342.0px;font-family:'DejaVu Sans',sans-serif;font-weight:bold;font-size:22.6px;color:#595959;direction:rtl;transform:translate(-50%,-50%) scaleX(0.857);">نسبة الأشتراكات الربع سنوية</div>
<svg style="left:0;top:0" width="1" height="1"><text transform="translate(2459.49 571.00) scale(0.4619 0.7332)" font-family="Liberation Sans,sans-serif" font-weight="bold" font-size="100" fill="#5B3FF5" stroke="#5B3FF5" stroke-width="1.2" stroke-linejoin="round">14%</text></svg>
<svg style="left:0;top:0" width="1" height="1"><circle cx="3014" cy="549" r="141.4" fill="none" stroke="#C6BDFA" stroke-width="36.80000000000001"/><path d="M3014.00 389.20 A159.8 159.8 0 0 1 3042.76 706.19 L3036.14 669.99 A123 123 0 0 0 3014.00 426.00 Z" fill="#5B3FF5"/><path d="M3014.00 428.00 L3014.00 387.20 M3051.39 433.92 L3064.00 395.12 M3085.12 451.11 L3109.10 418.10 M3111.89 477.88 L3144.90 453.90 M3129.08 511.61 L3167.88 499.00 M3135.00 549.00 L3175.80 549.00 M3129.08 586.39 L3167.88 599.00 M3111.89 620.12 L3144.90 644.10 M3085.12 646.89 L3109.10 679.90 M3051.39 664.08 L3064.00 702.88 M3014.00 670.00 L3014.00 710.80 M2976.61 664.08 L2964.00 702.88 M2942.88 646.89 L2918.90 679.90 M2916.11 620.12 L2883.10 644.10 M2898.92 586.39 L2860.12 599.00 M2893.00 549.00 L2852.20 549.00 M2898.92 511.61 L2860.12 499.00 M2916.11 477.88 L2883.10 453.90 M2942.88 451.11 L2918.90 418.10 M2976.61 433.92 L2964.00 395.12 M3035.78 668.02 L3043.12 708.16 " stroke="#fff" stroke-width="3.2" fill="none"/></svg>
<div class="t" style="left:3016.5px;top:342.0px;font-family:'DejaVu Sans',sans-serif;font-weight:bold;font-size:22.6px;color:#595959;direction:rtl;transform:translate(-50%,-50%) scaleX(0.845);">نسبة الاشتراكات الشهرية</div>
<svg style="left:0;top:0" width="1" height="1"><text transform="translate(2962.24 571.00) scale(0.5167 0.7332)" font-family="Liberation Sans,sans-serif" font-weight="bold" font-size="100" fill="#5B3FF5" stroke="#5B3FF5" stroke-width="1.2" stroke-linejoin="round">47%</text></svg>
<svg style="left:0;top:0" width="1" height="1"><circle cx="678.2" cy="1032.2" r="138.75" fill="none" stroke="#E8F0FB" stroke-width="36.5"/><path d="M678.20 875.20 A157 157 0 0 1 834.89 1022.34 L798.46 1024.63 A120.5 120.5 0 0 0 678.20 911.70 Z" fill="#1CCBFA"/><path d="M678.20 913.70 L678.20 873.20 M796.47 1024.76 L836.89 1022.22 " stroke="#fff" stroke-width="3" fill="none"/></svg>
<div class="t" style="left:680.2px;top:790.9px;font-family:'DejaVu Sans',sans-serif;font-weight:bold;font-size:22.6px;color:#595959;direction:rtl;transform:translate(-50%,-50%) scaleX(0.845);">نسبة الأتشاركات المنتهية</div>
<svg style="left:676.5px;top:993.2px" width="1" height="1" viewBox="0 0 1 1" ><g fill="none" stroke="#1F4B99" stroke-width="3.3" stroke-linecap="round">
<circle cx="0" cy="0" r="30.4"/><path d="M-38.4 -37.4 L38.4 37.4 M38.4 -37.4 L-38.4 37.4"/></g></svg>
<svg style="left:0;top:0" width="1" height="1"><text transform="translate(628.99 1108.42) scale(0.5215 0.7181)" font-family="Liberation Sans,sans-serif" font-weight="bold" font-size="100" fill="#5B3FF5" stroke="#5B3FF5" stroke-width="1.2" stroke-linejoin="round">24%</text></svg>
<svg style="left:0;top:0" width="1" height="1"><circle cx="1061" cy="1037.2" r="139.5" fill="none" stroke="#E8F0FB" stroke-width="37"/><path d="M1061.00 879.20 A158 158 0 1 1 903.31 1027.28 L940.24 1029.60 A121 121 0 1 0 1061.00 916.20 Z" fill="#5B3FF5"/><path d="M1061.00 918.20 L1061.00 877.20 M942.23 1029.73 L901.32 1027.15 " stroke="#fff" stroke-width="3" fill="none"/></svg>
<div class="t" style="left:1061.2px;top:794.6px;font-family:'DejaVu Sans',sans-serif;font-weight:bold;font-size:22.6px;color:#595959;direction:rtl;transform:translate(-50%,-50%) scaleX(0.818);">نسبة الأشتراكات الفعالة</div>
<svg style="left:1016.4px;top:946.3px" width="94.2" height="94.2" viewBox="0 0 93 93" ><g fill="none" stroke="#1F4B99" stroke-width="4.4" stroke-linecap="round" stroke-linejoin="round">
<path d="M17 10 H10 Q3 10 3 17 V63 Q3 70 10 70 H17"/>
<path d="M64 10 H72 Q79 10 79 17 V50"/>
<path d="M42 80 H24 Q17 80 17 73 V9 Q17 2 24 2 H57 Q64 2 64 9 V50"/>
<path d="M29 30 V13 L35 18.5 L40.5 12 L46 18.5 L52 13 V30 Z" stroke-width="4"/>
<circle cx="71" cy="71" r="19.5"/>
<path d="M61 71 L68 78 L81 65" stroke-width="4.6"/>
</g>
<text x="40.5" y="67.5" font-family="Liberation Sans,sans-serif" font-weight="bold" font-size="29" fill="#1F4B99" stroke="#1F4B99" stroke-width="1.3" text-anchor="middle">$</text></svg>
<svg style="left:0;top:0" width="1" height="1"><text transform="translate(1009.90 1114.33) scale(0.5204 0.7253)" font-family="Liberation Sans,sans-serif" font-weight="bold" font-size="100" fill="#5B3FF5" stroke="#5B3FF5" stroke-width="1.2" stroke-linejoin="round">76%</text></svg>
<svg style="left:0;top:0" width="1" height="1"><path d="M1281 1192 H2225" stroke="#D9D9D9" stroke-width="2" fill="none"/><path d="M1323.4 1178.7 C1337.7 1145.3 1380.6 1026.8 1409.2 978.7 C1437.8 930.5 1466.4 898.0 1495.0 889.8 C1523.6 881.6 1552.2 887.7 1580.8 929.3 C1609.4 970.8 1638.0 1105.8 1666.6 1139.2 C1695.2 1172.5 1723.8 1122.7 1752.4 1129.3 C1780.9 1135.9 1809.5 1172.1 1838.1 1178.7 C1866.7 1185.2 1895.3 1167.5 1923.9 1168.8 C1952.5 1170.0 1981.1 1185.7 2009.7 1186.1 C2038.3 1186.5 2066.9 1174.5 2095.5 1171.2 C2124.1 1168.0 2167.0 1167.1 2181.3 1166.3" stroke="#1EC8F8" stroke-width="4.6" fill="none" stroke-linecap="round"/><circle cx="1323.4" cy="1178.7" r="6.8" fill="#4472C4"/><text x="1323.4" y="1156.7" text-anchor="middle" font-family="Liberation Sans,sans-serif" font-weight="bold" font-size="19.5" fill="#404040">5</text><text x="1323.4" y="1227.0" text-anchor="middle" font-family="Liberation Sans,sans-serif" font-weight="bold" font-size="19.5" fill="#595959">Aug</text><circle cx="1409.2" cy="978.7" r="6.8" fill="#4472C4"/><text x="1409.2" y="956.7" text-anchor="middle" font-family="Liberation Sans,sans-serif" font-weight="bold" font-size="19.5" fill="#404040">86</text><text x="1409.2" y="1227.0" text-anchor="middle" font-family="Liberation Sans,sans-serif" font-weight="bold" font-size="19.5" fill="#595959">Sep</text><circle cx="1495.0" cy="889.8" r="6.8" fill="#4472C4"/><text x="1495.0" y="867.8" text-anchor="middle" font-family="Liberation Sans,sans-serif" font-weight="bold" font-size="19.5" fill="#404040">122</text><text x="1495.0" y="1227.0" text-anchor="middle" font-family="Liberation Sans,sans-serif" font-weight="bold" font-size="19.5" fill="#595959">Oct</text><circle cx="1580.8" cy="929.3" r="6.8" fill="#4472C4"/><text x="1580.8" y="907.3" text-anchor="middle" font-family="Liberation Sans,sans-serif" font-weight="bold" font-size="19.5" fill="#404040">106</text><text x="1580.8" y="1227.0" text-anchor="middle" font-family="Liberation Sans,sans-serif" font-weight="bold" font-size="19.5" fill="#595959">Nov</text><circle cx="1666.6" cy="1139.2" r="6.8" fill="#4472C4"/><text x="1666.6" y="1117.2" text-anchor="middle" font-family="Liberation Sans,sans-serif" font-weight="bold" font-size="19.5" fill="#404040">21</text><text x="1666.6" y="1227.0" text-anchor="middle" font-family="Liberation Sans,sans-serif" font-weight="bold" font-size="19.5" fill="#595959">Dec</text><circle cx="1752.4" cy="1129.3" r="6.8" fill="#4472C4"/><text x="1752.4" y="1107.3" text-anchor="middle" font-family="Liberation Sans,sans-serif" font-weight="bold" font-size="19.5" fill="#404040">25</text><text x="1752.4" y="1227.0" text-anchor="middle" font-family="Liberation Sans,sans-serif" font-weight="bold" font-size="19.5" fill="#595959">Jan</text><circle cx="1838.1" cy="1178.7" r="6.8" fill="#4472C4"/><text x="1838.1" y="1156.7" text-anchor="middle" font-family="Liberation Sans,sans-serif" font-weight="bold" font-size="19.5" fill="#404040">5</text><text x="1838.1" y="1227.0" text-anchor="middle" font-family="Liberation Sans,sans-serif" font-weight="bold" font-size="19.5" fill="#595959">Feb</text><circle cx="1923.9" cy="1168.8" r="6.8" fill="#4472C4"/><text x="1923.9" y="1146.8" text-anchor="middle" font-family="Liberation Sans,sans-serif" font-weight="bold" font-size="19.5" fill="#404040">9</text><text x="1923.9" y="1227.0" text-anchor="middle" font-family="Liberation Sans,sans-serif" font-weight="bold" font-size="19.5" fill="#595959">Mar</text><circle cx="2009.7" cy="1186.1" r="6.8" fill="#4472C4"/><text x="2009.7" y="1164.1" text-anchor="middle" font-family="Liberation Sans,sans-serif" font-weight="bold" font-size="19.5" fill="#404040">2</text><text x="2009.7" y="1227.0" text-anchor="middle" font-family="Liberation Sans,sans-serif" font-weight="bold" font-size="19.5" fill="#595959">Jul</text><circle cx="2095.5" cy="1171.2" r="6.8" fill="#4472C4"/><text x="2095.5" y="1149.2" text-anchor="middle" font-family="Liberation Sans,sans-serif" font-weight="bold" font-size="19.5" fill="#404040">8</text><text x="2095.5" y="1227.0" text-anchor="middle" font-family="Liberation Sans,sans-serif" font-weight="bold" font-size="19.5" fill="#595959">Apr</text><circle cx="2181.3" cy="1166.3" r="6.8" fill="#4472C4"/><text x="2181.3" y="1144.3" text-anchor="middle" font-family="Liberation Sans,sans-serif" font-weight="bold" font-size="19.5" fill="#404040">10</text><text x="2181.3" y="1227.0" text-anchor="middle" font-family="Liberation Sans,sans-serif" font-weight="bold" font-size="19.5" fill="#595959">Jun</text></svg>
<div class="t" style="left:1753.8px;top:787.7px;font-family:'DejaVu Sans',sans-serif;font-weight:bold;font-size:26px;color:#595959;direction:rtl;transform:translate(-50%,-50%) scaleX(0.853);">انتهاء الأشتراكات لكل شهر</div>
<svg style="left:0;top:0" width="1" height="1"><path d="M2280 1181.6 H3252" stroke="#D9D9D9" stroke-width="2" fill="none"/><path d="M2350.4 1175.1 C2373.5 1174.8 2442.9 1175.1 2489.1 1173.4 C2535.3 1171.8 2581.6 1166.0 2627.8 1165.1 C2674.0 1164.3 2720.3 1178.4 2766.5 1168.4 C2812.7 1158.5 2859.0 1141.1 2905.2 1105.5 C2951.4 1069.9 2997.7 994.2 3043.9 954.7 C3090.1 915.2 3159.5 882.9 3182.6 868.5" stroke="#5B3FF5" stroke-width="4.6" fill="none" stroke-linecap="round"/><circle cx="2350.4" cy="1175.1" r="6.8" fill="#4472C4"/><text x="2350.4" y="1153.1" text-anchor="middle" font-family="Liberation Sans,sans-serif" font-weight="bold" font-size="19.5" fill="#404040">4</text><text x="2350.4" y="1217.0" text-anchor="middle" font-family="Liberation Sans,sans-serif" font-weight="bold" font-size="19.5" fill="#595959">Jan</text><circle cx="2489.1" cy="1173.4" r="6.8" fill="#4472C4"/><text x="2489.1" y="1151.4" text-anchor="middle" font-family="Liberation Sans,sans-serif" font-weight="bold" font-size="19.5" fill="#404040">5</text><text x="2489.1" y="1217.0" text-anchor="middle" font-family="Liberation Sans,sans-serif" font-weight="bold" font-size="19.5" fill="#595959">Feb</text><circle cx="2627.8" cy="1165.1" r="6.8" fill="#4472C4"/><text x="2627.8" y="1143.1" text-anchor="middle" font-family="Liberation Sans,sans-serif" font-weight="bold" font-size="19.5" fill="#404040">10</text><text x="2627.8" y="1217.0" text-anchor="middle" font-family="Liberation Sans,sans-serif" font-weight="bold" font-size="19.5" fill="#595959">Jun</text><circle cx="2766.5" cy="1168.4" r="6.8" fill="#4472C4"/><text x="2766.5" y="1146.4" text-anchor="middle" font-family="Liberation Sans,sans-serif" font-weight="bold" font-size="19.5" fill="#404040">8</text><text x="2766.5" y="1217.0" text-anchor="middle" font-family="Liberation Sans,sans-serif" font-weight="bold" font-size="19.5" fill="#595959">Jul</text><circle cx="2905.2" cy="1105.5" r="6.8" fill="#4472C4"/><text x="2905.2" y="1083.5" text-anchor="middle" font-family="Liberation Sans,sans-serif" font-weight="bold" font-size="19.5" fill="#404040">46</text><text x="2905.2" y="1217.0" text-anchor="middle" font-family="Liberation Sans,sans-serif" font-weight="bold" font-size="19.5" fill="#595959">Aug</text><circle cx="3043.9" cy="954.7" r="6.8" fill="#4472C4"/><text x="3043.9" y="932.7" text-anchor="middle" font-family="Liberation Sans,sans-serif" font-weight="bold" font-size="19.5" fill="#404040">137</text><text x="3043.9" y="1217.0" text-anchor="middle" font-family="Liberation Sans,sans-serif" font-weight="bold" font-size="19.5" fill="#595959">Sep</text><circle cx="3182.6" cy="868.5" r="6.8" fill="#4472C4"/><text x="3182.6" y="846.5" text-anchor="middle" font-family="Liberation Sans,sans-serif" font-weight="bold" font-size="19.5" fill="#404040">189</text><text x="3182.6" y="1217.0" text-anchor="middle" font-family="Liberation Sans,sans-serif" font-weight="bold" font-size="19.5" fill="#595959">Oct</text></svg>
<div class="t" style="left:2762.8px;top:787.7px;font-family:'DejaVu Sans',sans-serif;font-weight:bold;font-size:26px;color:#595959;direction:rtl;transform:translate(-50%,-50%) scaleX(0.856);">عدد الأشتراكات شهريا</div>
</body></html>
